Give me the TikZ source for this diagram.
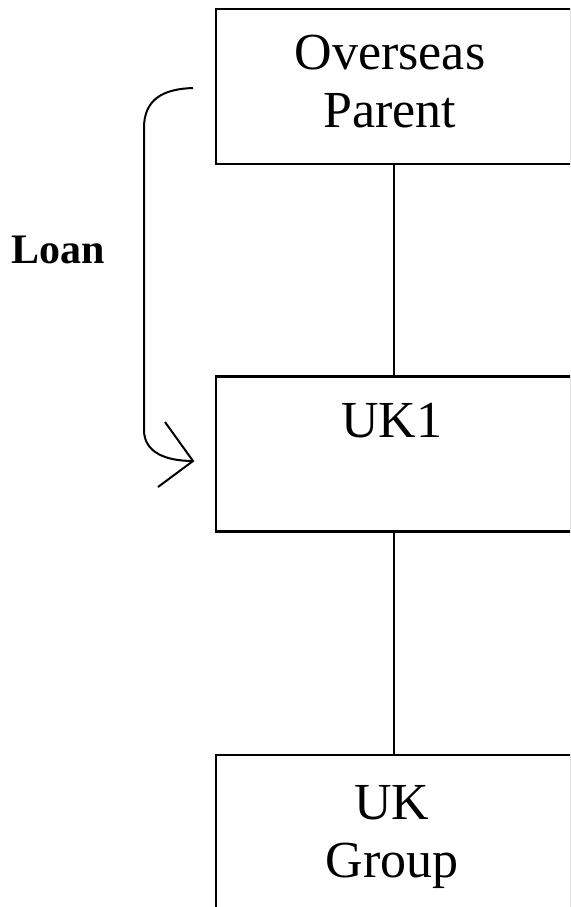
\documentclass[tikz,border=0pt]{standalone}
\usepackage{fontspec}
\setmainfont{Liberation Serif}
\begin{document}
\begin{tikzpicture}[x=1pt,y=-1pt,
  entity/.style={draw,line width=2.2pt,minimum width=355pt,minimum height=155pt,inner sep=0pt},
  label/.style={font=\fontsize{52}{58}\selectfont,align=center,inner sep=0pt,anchor=base},
  loanlabel/.style={font=\fontsize{42}{50}\selectfont\bfseries,inner sep=0pt,anchor=base},
  link/.style={line width=2pt},
  loanline/.style={line width=2pt}]
\useasboundingbox (0,0) rectangle (570,907);
\begin{scope}
\clip (0,0) rectangle (570,907);
% ownership chain
\node[entity] (parent) at (393.5,86.5) {};
\node[entity] (uk1) at (393.5,454) {};
\node[entity] (group) at (393.5,832.5) {};
\draw[link] (parent.south) -- (uk1.north);
\draw[link] (uk1.south) -- (group.north);
\end{scope}
% box texts (anchored on the baseline of the last line)
\node[label] (ptext) at (390,127) {Overseas\\Parent};
\node[label] (uktext) at (392,437) {UK1};
\node[label] (gtext) at (392,877) {UK\\Group};
% loan bracket with open arrowhead
\node[loanlabel] (loan) at (58,263) {Loan};
\coordinate (ls) at (193,88);
\coordinate (le) at (193,461);
\draw[loanline] (ls) .. controls (162,89) and (144,100) .. (144,128)
  -- (144,430) .. controls (144,452) and (165,461) .. (le);
\draw[loanline] (165,422) -- (le) -- (158,487);
\end{tikzpicture}
\end{document}
